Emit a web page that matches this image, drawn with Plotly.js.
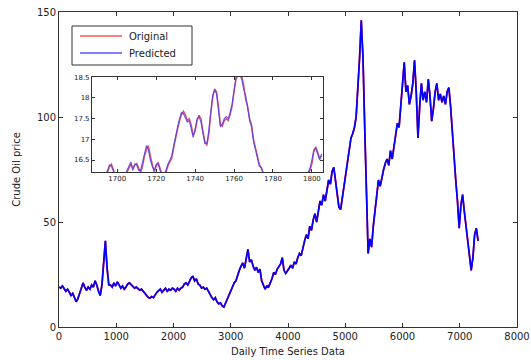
<!DOCTYPE html>
<html>
<head>
<meta charset="utf-8">
<script src="https://cdn.plot.ly/plotly-3.0.1.min.js"></script>
<style>html,body{margin:0;padding:0;background:#fff;}#chart{width:531px;height:360px;}</style>
</head>
<body>
<div id="chart"></div>
<script>
// Main series: crude oil price sampled every 30 days starting at day 0
const mainStartDay = 0;
const mainStepDays = 30;
const mainPrice = [
  19, 18.5, 19.5, 18, 17, 18, 16.5, 15, 16, 13.5, 12, 13.5, 16, 18, 21, 19, 17.5, 19, 18, 20, 19, 22, 20, 17, 15, 20, 33, 41, 28, 20,
  20, 19, 21, 19.5, 21.5, 20, 18.5, 19.5, 18, 19, 20.5, 21, 20, 19.5, 18.5, 19, 18, 17.5, 18, 17, 16, 15, 14, 13.8, 14.5, 14, 15.5, 16.5, 17.3, 18,
  16.5, 17.5, 18.5, 17, 18, 17.5, 18.5, 18, 17, 18.5, 17.5, 18.5, 19, 20.5, 21, 20, 22, 23.5, 24, 22, 23, 20.5, 20, 18.5, 19, 18, 18.5, 17, 15, 14,
  13, 14, 12, 11, 11.5, 10, 9.5, 11.5, 13, 15, 17, 19, 21, 22, 25, 27, 29, 30.5, 28, 33, 37, 31, 32, 29, 27, 28.5, 26, 27.5, 22, 20,
  18, 19.5, 19, 21, 23, 26, 25, 27.5, 29, 30, 33, 27, 25.5, 26.5, 28, 29.5, 28, 31, 30, 33, 35, 34, 38, 41, 44, 42, 48, 46, 51, 54,
  50, 55, 60, 58, 63, 60, 66, 70, 68, 74, 76, 70, 62, 57, 56, 62, 66, 73, 78, 85, 90, 92, 95, 100, 112, 128, 146, 128, 95, 60,
  35, 42, 38, 48, 55, 65, 70, 67, 72, 75, 78, 80, 77, 84, 80, 86, 90, 97, 95, 105, 118, 126, 112, 115, 106, 110, 116, 127, 112, 90,
  105, 116, 108, 112, 107, 118, 110, 98, 104, 112, 116, 108, 111, 107, 110, 106, 112, 114, 105, 93, 78, 70, 60, 47, 58, 63, 55, 48, 43, 35,
  27, 33, 44, 47, 41
];

// Inset: daily values from day 1690 to 1805
const insetStartDay = 1690;
const insetOriginal = [
  16.0, 15.9, 15.95, 16.05, 16.1, 16.2, 16.35, 16.4, 16.25, 16.1,
  16.0, 15.95, 16.05, 16.15, 16.1, 16.2, 16.3, 16.4, 16.3, 16.38,
  16.42, 16.3, 16.2, 16.35, 16.6, 16.75, 16.85, 16.6, 16.4, 16.2,
  16.35, 16.45, 16.3, 16.15, 16.1, 16.2, 16.35, 16.45, 16.55, 16.8,
  17.05, 17.25, 17.45, 17.6, 17.68, 17.6, 17.45, 17.5, 17.35, 17.1,
  17.2, 17.45, 17.58, 17.5, 17.2, 16.95, 16.85, 17.1, 17.6, 18.0,
  18.22, 18.15, 17.8, 17.35, 17.32, 17.45, 17.5, 17.45, 17.6, 17.8,
  18.15, 18.45, 18.55, 18.6, 18.52, 18.3, 17.95, 17.8, 17.5, 17.35,
  17.0, 16.8, 16.6, 16.4, 16.3, 16.2, 16.05, 15.9, 15.85, 15.8,
  15.75, 15.8, 15.9, 15.85, 15.8, 15.75, 15.7, 15.8, 15.85, 15.8,
  15.9, 15.95, 15.85, 15.8, 15.9, 16.0, 15.95, 16.05, 16.15, 16.25,
  16.4, 16.7, 16.82, 16.7, 16.55, 16.6
];
const insetPredicted = [
  16.05, 15.95, 15.9, 16.1, 16.15, 16.25, 16.38, 16.35, 16.2, 16.05,
  16.0, 16.0, 16.1, 16.2, 16.15, 16.25, 16.35, 16.45, 16.25, 16.4,
  16.38, 16.25, 16.25, 16.45, 16.7, 16.85, 16.75, 16.5, 16.35, 16.25,
  16.4, 16.4, 16.25, 16.1, 16.15, 16.25, 16.4, 16.5, 16.6, 16.85,
  17.1, 17.3, 17.5, 17.65, 17.62, 17.5, 17.42, 17.45, 17.25, 17.05,
  17.25, 17.5, 17.55, 17.42, 17.15, 16.9, 16.9, 17.2, 17.65, 18.05,
  18.2, 18.1, 17.7, 17.3, 17.38, 17.5, 17.55, 17.5, 17.65, 17.85,
  18.2, 18.5, 18.58, 18.55, 18.45, 18.2, 18.05, 17.75, 17.45, 17.3,
  16.95, 16.75, 16.55, 16.35, 16.32, 16.15, 16.0, 15.9, 15.8, 15.8,
  15.8, 15.85, 15.85, 15.8, 15.75, 15.8, 15.75, 15.85, 15.8, 15.85,
  15.95, 15.9, 15.8, 15.85, 15.95, 15.98, 16.0, 16.1, 16.2, 16.3,
  16.5, 16.75, 16.78, 16.65, 16.5, 16.65
];

const mainXTicks = [0, 1000, 2000, 3000, 4000, 5000, 6000, 7000, 8000];
const mainYTicks = [0, 50, 100, 150];
const insetXTicks = [1700, 1720, 1740, 1760, 1780, 1800];
const insetYTicks = [16.5, 17, 17.5, 18, 18.5];
const legendLabels = ['Original', 'Predicted'];
const seriesColors = ['red', 'blue'];

const FONT = 'DejaVu Sans, Arial, sans-serif';
const AXC = '#333';
const TXT = '#222';

const traces = [
  {x0: mainStartDay, dx: mainStepDays, y: mainPrice, type: 'scatter', mode: 'lines',
   name: legendLabels[0], line: {color: seriesColors[0], width: 1.7}, xaxis: 'x', yaxis: 'y'},
  {x0: mainStartDay, dx: mainStepDays, y: mainPrice, type: 'scatter', mode: 'lines',
   name: legendLabels[1], line: {color: seriesColors[1], width: 1.7}, xaxis: 'x', yaxis: 'y'},
  {x0: insetStartDay, dx: 1, y: insetOriginal, type: 'scatter', mode: 'lines',
   name: legendLabels[0], line: {color: '#e05070', width: 1.4}, xaxis: 'x2', yaxis: 'y2'},
  {x0: insetStartDay, dx: 1, y: insetPredicted, type: 'scatter', mode: 'lines',
   name: legendLabels[1], line: {color: 'rgba(80,60,230,0.85)', width: 1.2}, xaxis: 'x2', yaxis: 'y2'}
];

const axCommon = {
  showline: true, linecolor: AXC, linewidth: 1, mirror: 'ticks',
  ticks: 'inside', ticklen: 4, tickcolor: AXC, showgrid: false, zeroline: false,
  tickfont: {family: FONT, size: 10, color: TXT}
};

// Legend drawn as a boxed key in the upper-left of the plot area (paper coords)
const lg = {x0: 0.0284, x1: 0.2904, y0: 0.8317, y1: 0.9556,
            lx0: 0.0459, lx1: 0.1376, tx: 0.1485, rows: [0.9238, 0.8698]};
const shapes = [
  {type: 'rect', xref: 'paper', yref: 'paper', x0: lg.x0, x1: lg.x1, y0: lg.y0, y1: lg.y1,
   line: {color: AXC, width: 1}, fillcolor: '#fff', layer: 'above'}
];
const annotations = [];
legendLabels.forEach((lab, i) => {
  shapes.push({type: 'line', xref: 'paper', yref: 'paper', x0: lg.lx0, x1: lg.lx1,
               y0: lg.rows[i], y1: lg.rows[i], line: {color: seriesColors[i], width: 1}, layer: 'above'});
  annotations.push({xref: 'paper', yref: 'paper', x: lg.tx, y: lg.rows[i], xanchor: 'left', yanchor: 'middle',
                    text: lab, showarrow: false, font: {family: FONT, size: 10, color: TXT}});
});

const layout = {
  width: 531, height: 360,
  margin: {l: 59, r: 14, t: 12, b: 33, pad: 0},
  paper_bgcolor: '#fff', plot_bgcolor: '#fff',
  font: {family: FONT, size: 10, color: TXT},
  showlegend: false,
  shapes: shapes,
  annotations: annotations,
  xaxis: Object.assign({}, axCommon, {
    domain: [0, 1], range: [0, 8000], tickvals: mainXTicks, ticktext: mainXTicks.map(String),
    title: {text: 'Daily Time Series Data', font: {family: FONT, size: 10, color: TXT}, standoff: 6}
  }),
  yaxis: Object.assign({}, axCommon, {
    domain: [0, 1], range: [0, 150], tickvals: mainYTicks, ticktext: mainYTicks.map(String),
    title: {text: 'Crude Oil price', font: {family: FONT, size: 10, color: TXT}, standoff: 14}
  }),
  xaxis2: Object.assign({}, axCommon, {
    domain: [0.072, 0.576], range: [1687, 1805.6], anchor: 'y2',
    tickvals: insetXTicks, ticktext: insetXTicks.map(String), ticklen: 3,
    tickfont: {family: FONT, size: 7, color: TXT}
  }),
  yaxis2: Object.assign({}, axCommon, {
    domain: [0.492, 0.794], range: [16.21, 18.51], anchor: 'x2',
    tickvals: insetYTicks, ticktext: ['16.5', '17', '17.5', '18', '18.5'], ticklen: 3,
    tickfont: {family: FONT, size: 7, color: TXT}
  })
};

Plotly.newPlot('chart', traces, layout, {staticPlot: true, displayModeBar: false});
</script>
</body>
</html>
